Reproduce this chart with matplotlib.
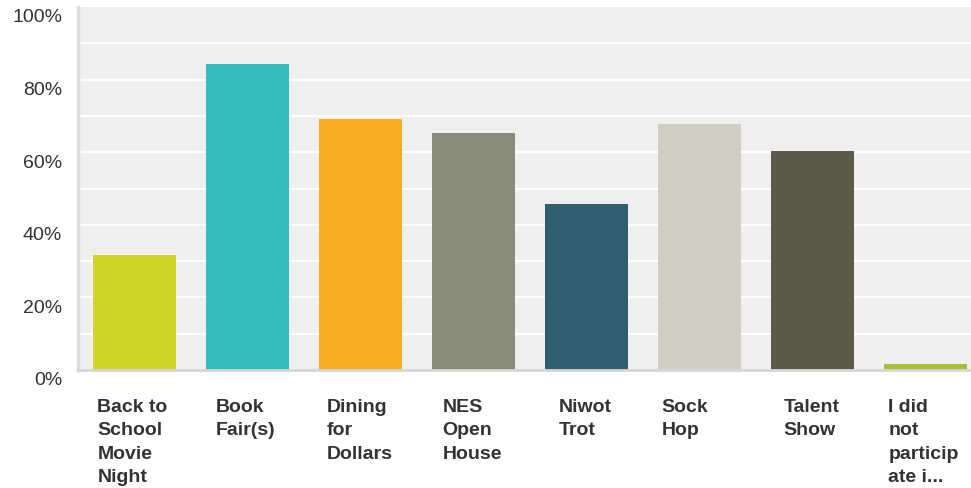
import matplotlib
matplotlib.use("Agg")
import matplotlib.pyplot as plt
import matplotlib.transforms as mtransforms

categories = ["Back to\nSchool\nMovie\nNight", "Book\nFair(s)", "Dining\nfor\nDollars",
              "NES\nOpen\nHouse", "Niwot\nTrot", "Sock\nHop", "Talent\nShow",
              "I did\nnot\nparticip\nate i..."]
values = [31.7, 84.4, 69.2, 65.4, 45.8, 67.9, 60.4, 1.7]
colors = ["#cfd52a", "#33bdbf", "#f6ae20", "#8a8b7b", "#2e5f6e", "#cfcec0", "#5c5a4a", "#a9bf38"]
ytick_vals = [0, 20, 40, 60, 80, 100]
ytick_labels = ["0%", "20%", "40%", "60%", "80%", "100%"]
# label left-edge offsets from the bar's left edge, in pixels
label_dx = [4, 9, 7, 10, 13, 3, 12, 4]

plt.rcParams['font.family'] = ['Liberation Sans', 'DejaVu Sans']

W, H = 971, 489
fig = plt.figure(figsize=(W/100, H/100), dpi=100)
ax = fig.add_axes([78/W, (H-371)/H, (W-78)/W, (371-8)/H])
ax.set_facecolor("#efefef")

n = len(categories)
bw = 0.726
x = list(range(n))
ax.bar(x, values, width=bw, color=colors, zorder=3)
ax.set_xlim(-0.5, -0.5 + 893/113)
ax.set_ylim(0, 100)

for v in range(10, 100, 10):
    ax.axhline(v, color="white", lw=1.6, zorder=1)

ax.set_xticks([])
ax.set_yticks([])
ytrans = mtransforms.blended_transform_factory(ax.transAxes, ax.transData) + \
    mtransforms.ScaledTranslation(-16/100, -10/100, fig.dpi_scale_trans)
for v, lab in zip(ytick_vals, ytick_labels):
    ax.text(0, v, lab, transform=ytrans, ha="right", va="center",
            fontsize=14, color="#333333")

for s in ["top", "right"]:
    ax.spines[s].set_visible(False)
ax.spines["left"].set_color("#dddddd")
ax.spines["left"].set_linewidth(2.5)
ax.spines["bottom"].set_color("#d6d6d6")
ax.spines["bottom"].set_linewidth(2)
ax.spines["bottom"].set_zorder(4)

for i, lab in enumerate(categories):
    trans = mtransforms.blended_transform_factory(ax.transData, ax.transAxes) + \
        mtransforms.ScaledTranslation(label_dx[i]/100, -28/100, fig.dpi_scale_trans)
    ax.text(i - bw/2, 0, lab, transform=trans, ha="left", va="top",
            fontsize=14, fontweight="bold", color="#333333", linespacing=1.5)

fig.savefig("out.png", dpi=100)
